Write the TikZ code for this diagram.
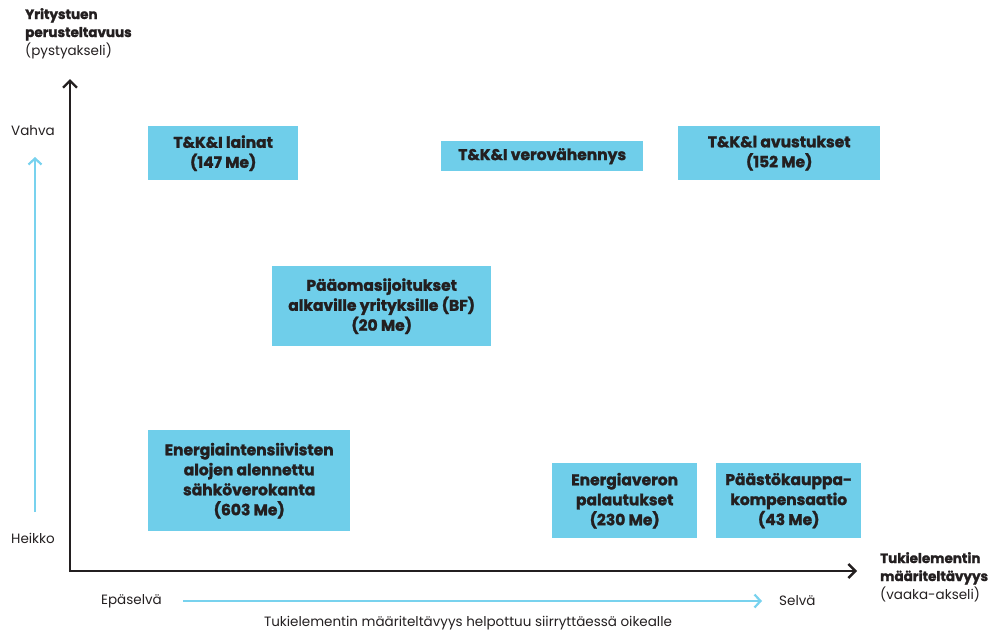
\documentclass[tikz,border=0pt]{standalone}
\usepackage{fontspec}
\setmainfont{Poppins}
\newfontfamily\heavy{Poppins}[BoldFeatures={FakeBold=1.6}]
\usetikzlibrary{arrows.meta}
\definecolor{boxblue}{RGB}{111,206,234}
\definecolor{arrblue}{RGB}{120,210,238}
\definecolor{ink}{RGB}{35,31,32}
\begin{document}
\begin{tikzpicture}[x=1pt,y=-1pt,
  box/.style={fill=boxblue,inner sep=0pt,align=center,text=ink,
    font=\heavy\bfseries\fontsize{15.5}{20}\selectfont,anchor=north west},
  lbl/.style={text=ink,font=\fontsize{13.5}{18}\selectfont,inner sep=0pt},
  axis/.style={draw=ink,line width=2.4pt,-{Straight Barb[length=7pt,width=14pt,line width=2.4pt]}},
  barrow/.style={draw=arrblue,line width=2.2pt,-{Straight Barb[length=6pt,width=13pt,line width=2.2pt]}}]
\useasboundingbox (0,0) rectangle (992,632);
% axes
\coordinate (o) at (70,571);
\coordinate (ytop) at (70,79);
\coordinate (xend) at (857,571);
\draw[axis] (70,572.2) -- (ytop);
\draw[axis] (68.8,571) -- (xend);
% blue guide arrows
\coordinate (vb) at (35,512);
\coordinate (vt) at (35,157);
\draw[barrow] (vb) -- (vt);
\coordinate (hl) at (183,601);
\coordinate (hr) at (762,601);
\draw[barrow] (hl) -- (hr);
% boxes
\node[box,minimum width=150pt,minimum height=54pt] (b1) at (148,126) {T\&K\&I lainat\\(147 Me)};
\node[box,minimum width=202pt,minimum height=30pt] (b2) at (441,141) {T\&K\&I verovähennys};
\node[box,minimum width=202pt,minimum height=54pt] (b3) at (678,126) {T\&K\&l avustukset\\(152 Me)};
\node[box,minimum width=219pt,minimum height=80pt] (b4) at (272,266) {Pääomasijoitukset\\alkaville yrityksille (BF)\\(20 Me)};
\node[box,minimum width=202pt,minimum height=101pt] (b5) at (148,430) {Energiaintensiivisten\\alojen alennettu\\sähköverokanta\\(603 Me)};
\node[box,minimum width=145pt,minimum height=75pt] (b6) at (552,463) {Energiaveron\\palautukset\\(230 Me)};
\node[box,minimum width=145pt,minimum height=75pt] (b7) at (716,463) {Päästökauppa-\\kompensaatio\\(43 Me)};
% labels
\node[lbl,anchor=north west,align=left] (ylab) at (25,8) {{\heavy\bfseries Yritystuen}\\{\heavy\bfseries perusteltavuus}\\(pystyakseli)};
\node[lbl] (vahva) at (33,131) {Vahva};
\node[lbl] (heikko) at (33,538) {Heikko};
\node[lbl,anchor=east] (epa) at (162,601) {Epäselvä};
\node[lbl,anchor=west] (selva) at (779,601) {Selvä};
\node[lbl] (cap) at (468,623) {Tukielementin määriteltävyys helpottuu siirryttäessä oikealle};
\node[lbl,anchor=north west,align=left] (xlab) at (880,552) {{\heavy\bfseries Tukielementin}\\{\heavy\bfseries määriteltävyys}\\(vaaka-akseli)};
\end{tikzpicture}
\end{document}
